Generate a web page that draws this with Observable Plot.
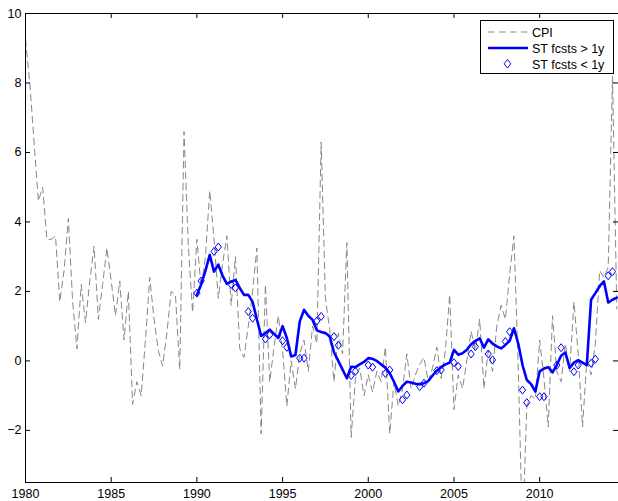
<!DOCTYPE html>
<html><head><meta charset="utf-8">
<script src="https://cdn.jsdelivr.net/npm/d3@7"></script>
<script src="https://cdn.jsdelivr.net/npm/@observablehq/plot@0.6"></script>
<style>
body{margin:0;background:#fff;}
#wrap{position:relative;width:618px;height:501px;overflow:hidden;font-family:"Liberation Sans",Arial,sans-serif;}
#legend{position:absolute;left:480px;top:20px;}
</style></head><body><div id="wrap"></div>
<script>
// CPI inflation, quarterly, starting 1980Q1
const cpiStart = 1980;
const cpi = [
  9.25, 8.0, 6.3, 4.6,
  5.0, 3.5, 3.5, 3.6,
  1.7, 2.6, 4.1, 1.7,
  0.35, 2.2, 1.1, 2.3,
  3.3, 1.2, 2.2, 3.25,
  2.3, 1.3, 2.3, 0.6,
  2.0, -1.25, -0.6, -1.0,
  0.6, 2.4, 1.2, 0.3,
  -0.15, 0.8, 2.0, 1.9,
  -0.25, 6.6, 3.3, 1.4,
  3.5, 2.1, 3.0, 4.9,
  3.5, 1.8, 2.8, 3.6,
  1.6, 3.0, 0.35, 0.1,
  1.0, 2.0, 3.25, -2.1,
  2.2, -0.6, 0.4, 1.3,
  0.3, -1.3, 0.0, -0.8,
  0.2, 0.6, -0.3, 1.0,
  0.5, 6.3, 1.8, 0.9,
  -0.6, 0.8, 0.2, 3.4,
  -2.2, -0.5, -0.2, -1.0,
  -0.4, -0.9, -0.3, -0.6,
  0.4, -2.1, -0.6, -1.3,
  -0.8, 0.2, -0.8, -0.4,
  -0.1, 0.1, -0.6, -0.2,
  0.4, -0.5, 0.3, 1.9,
  -1.4, -0.4, -0.8, 0.0,
  0.85, 0.3, 1.2, -0.8,
  0.3, -0.3, 1.0, 1.6,
  1.2, 2.5, 3.6, -0.2,
  -5.0, -1.3, -1.0, -1.1,
  0.6, -0.5, -1.9, 1.3,
  -0.3, -0.6, 0.5, -0.3,
  1.7, 0.2, -1.9, 0.0,
  -0.4, 0.5, 2.6, 2.4,
  2.7, 8.2, 1.5
];

// Survey forecasts, horizon > 1 year, quarterly from 1990Q1
const stLongStart = 1990;
const stLong = [
  1.9, 2.2, 2.6, 3.05,
  2.57, 2.77, 2.45, 2.22,
  2.28, 2.33, 2.1, 1.9,
  1.9, 1.7, 1.2, 0.72,
  0.8, 0.9, 0.78, 0.66,
  1.0, 0.66, 0.13, 0.17,
  1.13, 1.47, 1.3, 1.18,
  0.88, 0.83, 0.8, 0.7,
  0.25, 0.0, -0.25, -0.5,
  -0.17, -0.18, -0.1, -0.03,
  0.08, 0.06, 0.0, -0.1,
  -0.2, -0.35, -0.6, -0.88,
  -0.72, -0.6, -0.62, -0.66,
  -0.67, -0.64, -0.58, -0.42,
  -0.28, -0.18, -0.1, -0.05,
  0.32, 0.18, 0.22, 0.32,
  0.48, 0.58, 0.65, 0.38,
  0.62, 0.5, 0.42, 0.36,
  0.46, 0.58, 0.94, 0.5,
  -0.12, -0.55, -0.67, -0.88,
  -0.3, -0.22, -0.18, -0.33,
  -0.12, 0.15, 0.24, -0.2,
  -0.05, 0.02, -0.05, -0.12,
  1.76, 1.95, 2.15, 2.29,
  1.68, 1.76, 1.82
];

// Survey forecasts, horizon < 1 year
const stShortDates = [
  1990, 1990.25, 1991, 1991.25, 1992, 1992.25, 1993, 1993.25, 1994, 1994.25,
  1995, 1995.25, 1996, 1996.25, 1997, 1997.25, 1998, 1998.25, 1999, 1999.25,
  2000, 2000.25, 2001, 2001.25, 2002, 2002.25, 2003, 2003.25, 2004, 2004.25,
  2005, 2005.25, 2006, 2006.25, 2007, 2007.25, 2008, 2008.25, 2009, 2009.25,
  2010, 2010.25, 2011, 2011.25, 2012, 2012.25, 2013, 2013.25, 2014, 2014.25
];
const stShortValues = [
  1.95, 2.3, 3.15, 3.28, 2.2, 2.1, 1.42, 1.23, 0.63, 0.75,
  0.58, 0.39, 0.08, 0.08, 1.15, 1.28, 0.7, 0.45, -0.42, -0.3,
  -0.12, -0.18, -0.36, -0.26, -1.12, -0.98, -0.74, -0.64, -0.28, -0.26,
  -0.05, -0.16, 0.2, 0.41, 0.2, 0.03, 0.56, 0.84, -0.84, -1.2,
  -1.03, -1.03, -0.12, 0.38, -0.31, -0.12, -0.07, 0.05, 2.45, 2.57
];

const xTicks = [1980, 1985, 1990, 1995, 2000, 2005, 2010];
const yTicks = [-2, 0, 2, 4, 6, 8, 10];
const legendLabels = ["CPI", "ST fcsts > 1y", "ST fcsts < 1y"];

const cpiData = cpi.map((v, i) => ({date: cpiStart + i / 4, value: v}));
const longData = stLong.map((v, i) => ({date: stLongStart + i / 4, value: v}));
const shortData = stShortDates.map((d, i) => ({date: d, value: stShortValues[i]}));

const W = 618, H = 501, mL = 25, mR = 0, mT = 13, mB = 19;
const innerW = W - mL - mR, innerH = H - mT - mB;

const diamondSym = {draw(ctx) { ctx.moveTo(0, -4); ctx.lineTo(3.1, 0); ctx.lineTo(0, 4); ctx.lineTo(-3.1, 0); ctx.closePath(); }};

const plot = Plot.plot({
  width: W, height: H,
  marginLeft: mL, marginRight: mR, marginTop: mT, marginBottom: mB,
  style: {fontFamily: "'Liberation Sans', Arial, sans-serif", fontSize: "12.5px", background: "white", color: "black"},
  x: {domain: [1980, 2014.6], label: null, ticks: xTicks, tickSize: 0, tickPadding: 7, tickFormat: d => String(d)},
  y: {domain: [-3.5, 10], label: null, ticks: yTicks, tickSize: 0, tickPadding: 4},
  marks: [
    Plot.line(cpiData, {x: "date", y: "value", stroke: "#7a7a7a", strokeWidth: 0.9, strokeDasharray: "6.5,4.5", clip: true}),
    Plot.line(longData, {x: "date", y: "value", stroke: "#0000ff", strokeWidth: 2.6, clip: true}),
    Plot.dot(shortData, {x: "date", y: "value", symbol: diamondSym, stroke: "#0000ff", strokeWidth: 1, fill: "none"}),
    Plot.frame({stroke: "black"}),
    Plot.tickX(xTicks, {x: d => d, insetTop: innerH - 5, stroke: "black"}),
    Plot.tickX(xTicks, {x: d => d, insetBottom: innerH - 5, stroke: "black"}),
    Plot.tickY(yTicks, {y: d => d, insetRight: innerW - 5, stroke: "black"}),
    Plot.tickY(yTicks, {y: d => d, insetLeft: innerW - 5, stroke: "black"})
  ]
});
const wrap = document.getElementById("wrap");
wrap.appendChild(plot);

// Legend
const lg = d3.select(wrap).append("svg").attr("id", "legend").attr("width", 135).attr("height", 55);
lg.append("rect").attr("x", 0.5).attr("y", 0.5).attr("width", 133).attr("height", 53).attr("fill", "white").attr("stroke", "black");
lg.append("line").attr("x1", 8).attr("x2", 48).attr("y1", 12).attr("y2", 12).attr("stroke", "#7a7a7a").attr("stroke-width", 0.9).attr("stroke-dasharray", "6.5,4.5");
lg.append("line").attr("x1", 8).attr("x2", 48).attr("y1", 28).attr("y2", 28).attr("stroke", "#0000ff").attr("stroke-width", 2.6);
lg.append("path").attr("d", "M27.5,39.5L30.8,43.8L27.5,48.1L24.2,43.8Z").attr("fill", "none").attr("stroke", "#0000ff");
legendLabels.forEach((t, i) => {
  lg.append("text").attr("x", 52).attr("y", 16.7 + i * 16.2).attr("font-size", "12.5px").attr("font-family", "'Liberation Sans', Arial, sans-serif").text(t);
});
</script></body></html>
